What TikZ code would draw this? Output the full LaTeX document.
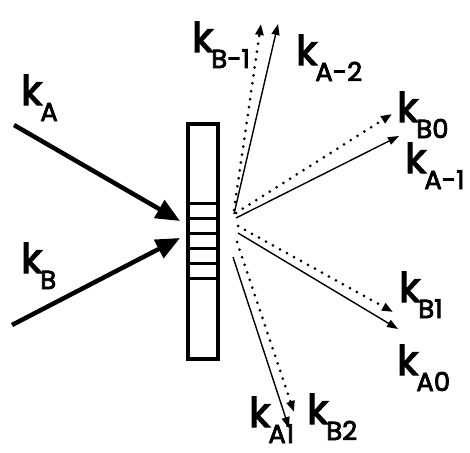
\documentclass[tikz,border=0pt]{standalone}
\usepackage{fontspec}
\setmainfont{Poppins}
\newfontfamily\ratefont{Poppins}[UprightFeatures={FakeBold=3}]
\usepackage{tikz}
\usetikzlibrary{arrows.meta,positioning}
\newcommand{\rate}[1]{k\kern-2pt\raisebox{-16pt}{\fontsize{26}{26}\selectfont #1}}
\tikzset{
  beam in/.style={-{Triangle[length=24pt,width=20pt]}, line width=4.5pt},
  beam out/.style={-{Triangle[length=11pt,width=8pt]}, line width=1.4pt},
  beam dot/.style={-{Triangle[length=11pt,width=8pt]}, line width=3pt, line cap=round, dash pattern=on 0pt off 8pt},
  rate label/.style={anchor=base west, inner sep=0pt, font=\fontsize{41}{41}\selectfont\ratefont},
  grating box/.style={draw, line width=3.5pt, minimum width=30pt, minimum height=235pt, inner sep=0pt},
}
\begin{document}
\begin{tikzpicture}[x=1pt,y=-1pt]
  \useasboundingbox (0,0) rectangle (470,452);
  % grating with its rulings
  \node[grating box] (grating) at (203,241.5) {};
  \foreach \y in {203,218,233,248,263,278}
    \draw[line width=3pt] (grating.west |- 0,\y) -- (grating.east |- 0,\y);
  % incoming beams
  \coordinate (srcA) at (14,125);
  \coordinate (hitA) at (180,221);
  \coordinate (srcB) at (12,325);
  \coordinate (hitB) at (180,238);
  \draw[beam in] (srcA) -- (hitA);
  \draw[beam in] (srcB) -- (hitB);
  \node[rate label] (kA) at (21,105) {\rate{A}};
  \node[rate label] (kB) at (21,273) {\rate{B}};
  % diffracted orders
  \coordinate (oB-1) at (234,210);  \coordinate (tB-1) at (261,24);
  \coordinate (oA-2) at (234,214);  \coordinate (tA-2) at (278,24);
  \coordinate (oB0)  at (236,213);  \coordinate (tB0)  at (392,114);
  \coordinate (oA-1) at (236,218);  \coordinate (tA-1) at (399,136);
  \coordinate (oB1)  at (238,226);  \coordinate (tB1)  at (393,312);
  \coordinate (oA0)  at (238,233);  \coordinate (tA0)  at (398,329);
  \coordinate (oB2)  at (237,242);  \coordinate (tB2)  at (294,412);
  \coordinate (oA1)  at (233,257);  \coordinate (tA1)  at (289,428);
  \draw[beam dot] (oB-1) -- (tB-1);
  \draw[beam out] (oA-2) -- (tA-2);
  \draw[beam dot] (oB0) -- (tB0);
  \draw[beam out] (oA-1) -- (tA-1);
  \draw[beam dot] (oB1) -- (tB1);
  \draw[beam out] (oA0) -- (tA0);
  \draw[beam dot] (oB2) -- (tB2);
  \draw[beam out] (oA1) -- (tA1);
  \node[rate label] (kB-1) at (192,52) {\rate{B-1}};
  \node[rate label] (kA-2) at (296,65) {\rate{A-2}};
  \node[rate label] (kB0) at (397,122) {\rate{B0}};
  \node[rate label] (kA-1) at (405,173) {\rate{A-1}};
  \node[rate label] (kB1) at (399,302) {\rate{B1}};
  \node[rate label] (kA0) at (397,375) {\rate{A0}};
  \node[rate label] (kA1) at (249,427) {\rate{A1}};
  \node[rate label] (kB2) at (307,424) {\rate{B2}};
\end{tikzpicture}
\end{document}
